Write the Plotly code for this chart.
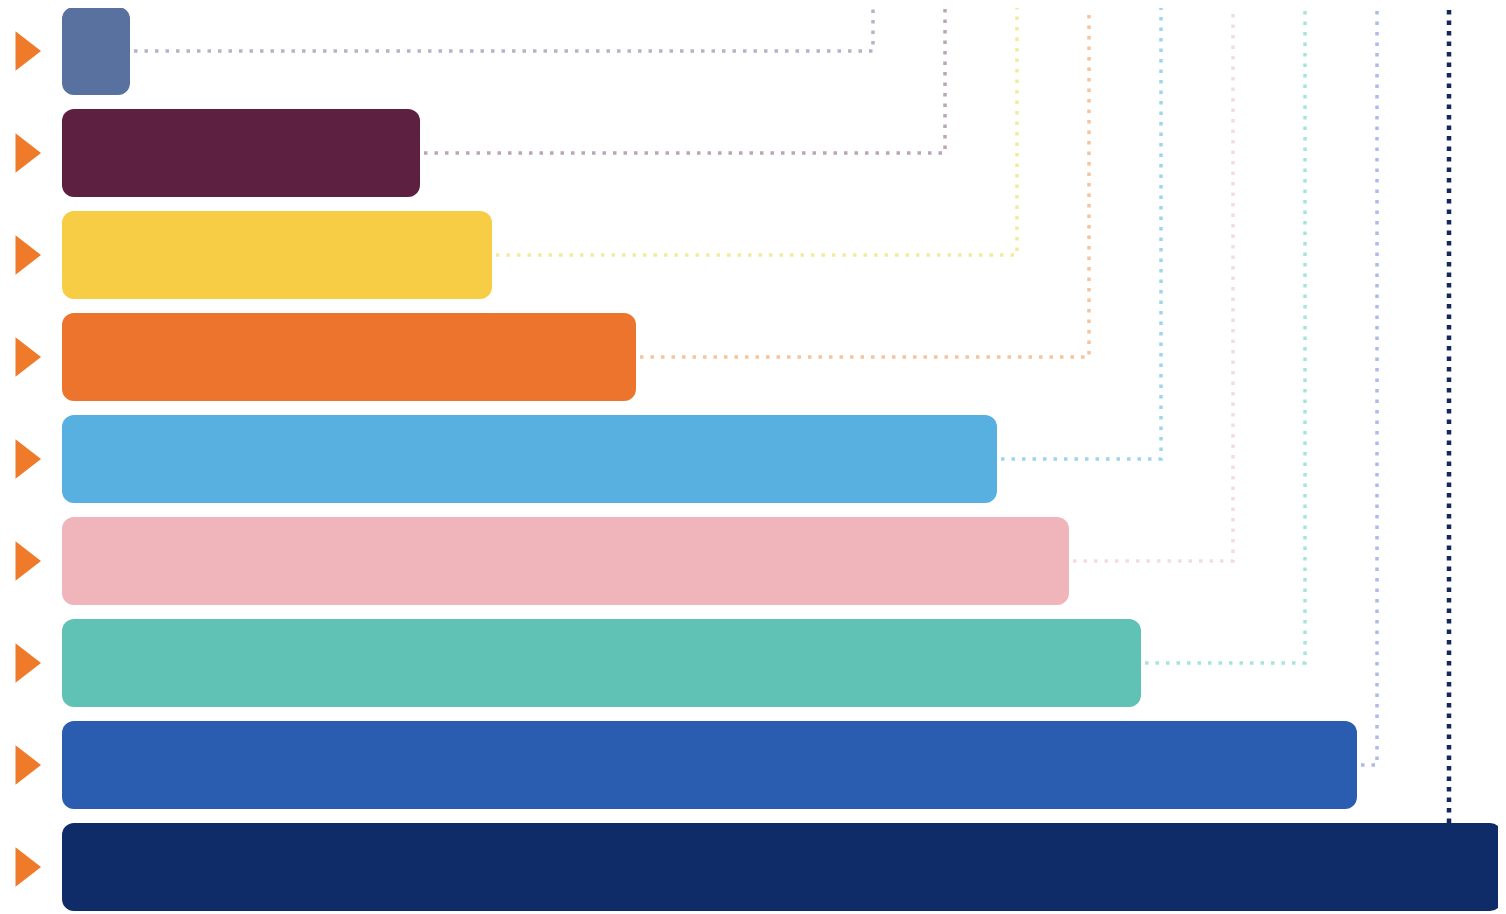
import plotly.graph_objects as go

# ---- data ----
categories = ["A", "B", "C", "D", "E", "F", "G", "H", "I"]
values = [68, 358, 430, 574, 935, 1007, 1079, 1295, 1440]
bar_colors = ["#58719e", "#5e2040", "#f6cd45", "#ec742c", "#57b0e0",
              "#f0b5ba", "#5fc2b5", "#2a5db0", "#102c68"]
guide_colors = ["#b4b4c8", "#bba5b6", "#f3ea9c", "#f5c39c", "#9fd6ea",
                "#f3dcde", "#a6e4dc", "#aebbe8", "#13265e"]

# ---- style / layout constants ----
W, H = 1506, 914
PAGE_OFF = 8            # default body margin of the html page
X0 = 62 - PAGE_OFF      # figure pixel where bars start
ROW0, ROW_STEP = 51 - PAGE_OFF, 102
BAR_PX = 88
BAR_W = BAR_PX / ROW_STEP
GUIDE_X0, GUIDE_STEP = 811, 72   # data units
GAP = 4
TRI_COLOR = "#ee7a2a"
TRI_X = -38

n = len(values)
ys = list(range(n))
y_top = -ROW0 / ROW_STEP
y_bot = (H - ROW0) / ROW_STEP

fig = go.Figure()

# dotted guide lines
for i, v in enumerate(values):
    gx = GUIDE_X0 + GUIDE_STEP * i
    last = i == n - 1
    if last:
        xs = [gx, gx]
        yy = [i - BAR_W / 2, y_top - 0.3]
        w, dash = 4.5, "4.5px,6px"
    else:
        xs = [v + GAP, gx, gx]
        yy = [i, i, y_top - 0.3]
        w, dash = 3.5, "3.5px,7px"
    fig.add_trace(go.Scatter(x=xs, y=yy, mode="lines",
                             line=dict(color=guide_colors[i], width=w, dash=dash),
                             hoverinfo="skip", showlegend=False))

# rounded bars: right part rounded at its end, left part rounded at its end
part = [v * 0.75 for v in values]
base_r = [v * 0.25 for v in values]
base_l = [v * 0.75 for v in values]
fig.add_trace(go.Bar(y=ys, x=part, base=base_r, orientation="h", width=BAR_W,
                     marker=dict(color=bar_colors, line=dict(width=0), cornerradius=12),
                     showlegend=False, hoverinfo="skip"))
fig.add_trace(go.Bar(y=ys, x=[-p for p in part], base=base_l, orientation="h", width=BAR_W,
                     marker=dict(color=bar_colors, line=dict(width=0), cornerradius=12),
                     showlegend=False, hoverinfo="skip"))

# orange triangles
fig.add_trace(go.Scatter(x=[TRI_X] * n, y=ys, mode="markers",
                         marker=dict(symbol="triangle-right", size=34, color=TRI_COLOR,
                                     line=dict(width=0)),
                         hoverinfo="skip", showlegend=False))

fig.update_layout(
    width=W, height=H, margin=dict(l=0, r=0, t=0, b=0),
    paper_bgcolor="white", plot_bgcolor="white",
    barmode="overlay", showlegend=False,
    xaxis=dict(range=[-X0, W - X0], visible=False, fixedrange=True),
    yaxis=dict(range=[y_bot, y_top], visible=False, fixedrange=True),
)

fig.write_html("out.html")
